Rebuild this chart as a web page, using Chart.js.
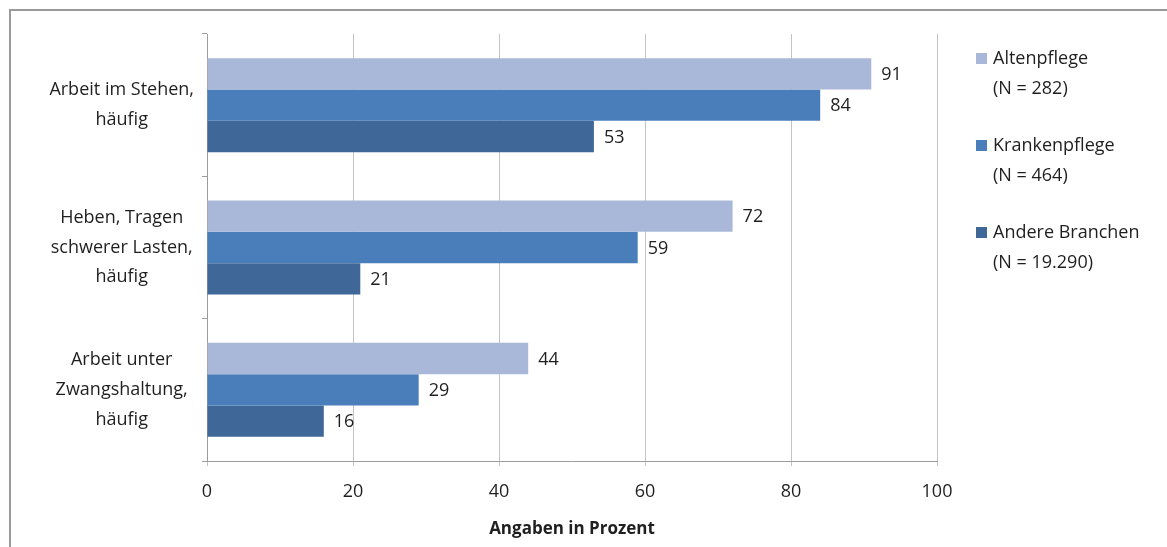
<!DOCTYPE html>
<html>
<head>
<meta charset="utf-8">
<script src="https://cdn.jsdelivr.net/npm/chart.js@4/dist/chart.umd.min.js"></script>
<style>
  html, body { margin: 0; padding: 0; background: #fff; }
  #wrap { width: 1167px; height: 547px; position: relative; }
</style>
</head>
<body>
<div id="wrap"><canvas id="myChart" width="1167" height="547"></canvas></div>
<script>
// data
let categories = [
  ["Arbeit im Stehen,", "häufig"],
  ["Heben, Tragen", "schwerer Lasten,", "häufig"],
  ["Arbeit unter", "Zwangshaltung,", "häufig"]
];
let seriesNames = ["Altenpflege", "Krankenpflege", "Andere Branchen"];
let seriesN = ["(N = 282)", "(N = 464)", "(N = 19.290)"];
let altenpflege = [91, 72, 44];
let krankenpflege = [84, 59, 29];
let andere = [53, 21, 16];
let xTicks = [0, 20, 40, 60, 80, 100];

let colors = ["#a9b8d8", "#4a7ebb", "#3f6898"];
let fontFam = "'Open Sans', Lato, sans-serif";
let fontSize = 18;
let textCol = "#1f1f1f";

// frame around the chart + value labels + legend
let extras = {
  id: "extras",
  beforeDraw(chart) {
    let c = chart.ctx;
    c.save();
    c.strokeStyle = "#9a9a9a";
    c.lineWidth = 2;
    c.strokeRect(10, 10, 1200, 600);
    c.restore();
  },
  afterDatasetsDraw(chart) {
    let c = chart.ctx;
    c.save();
    c.font = fontSize + "px " + fontFam;
    c.fillStyle = textCol;
    c.textAlign = "left";
    c.textBaseline = "middle";
    chart.data.datasets.forEach((ds, i) => {
      chart.getDatasetMeta(i).data.forEach((bar, j) => {
        c.fillText(ds.data[j], bar.x + 10, bar.y + 1);
      });
    });
    // legend
    let y0 = 59;
    seriesNames.forEach((name, i) => {
      let y = y0 + i * 87;
      c.fillStyle = colors[i];
      c.fillRect(976, y - 6, 11, 11);
      c.fillStyle = textCol;
      c.fillText(name, 993, y);
      c.fillText(seriesN[i], 993, y + 30);
    });
    c.restore();
  }
};

let ctx = document.getElementById("myChart").getContext("2d");
let myChart = new Chart(ctx, {
  type: "bar",
  data: {
    labels: categories,
    datasets: [
      { label: seriesNames[0], data: altenpflege, backgroundColor: colors[0] },
      { label: seriesNames[1], data: krankenpflege, backgroundColor: colors[1] },
      { label: seriesNames[2], data: andere, backgroundColor: colors[2] }
    ]
  },
  options: {
    indexAxis: "y",
    responsive: false,
    animation: false,
    categoryPercentage: 0.66,
    barPercentage: 1.0,
    layout: { padding: { left: 0, right: 230, top: 34, bottom: 4 } },
    plugins: { legend: { display: false }, tooltip: { enabled: false } },
    scales: {
      x: {
        min: 0, max: 100,
        afterBuildTicks: (s) => { s.ticks = xTicks.map(v => ({ value: v })); },
        afterFit: (s) => { s.height = 82; s.paddingLeft = 0; s.paddingRight = 0; },
        grid: { color: "#c4c4c4", lineWidth: 1, tickLength: 5, drawTicks: true },
        border: { color: "#9c9c9c" },
        ticks: { color: textCol, font: { family: fontFam, size: fontSize }, padding: 15 },
        title: {
          display: true, text: "Angaben in Prozent", color: textCol,
          font: { family: fontFam, size: fontSize - 1, weight: "bold" }, padding: { top: 0 }
        }
      },
      y: {
        afterFit: (s) => { s.width = 207; s.paddingTop = 0; s.paddingBottom = 0; },
        grid: { offset: true, drawOnChartArea: false, tickLength: 5, color: "#9c9c9c" },
        border: { color: "#9c9c9c" },
        ticks: {
          color: textCol, crossAlign: "center",
          font: { family: fontFam, size: fontSize, lineHeight: 1.65 }, padding: 8
        }
      }
    }
  },
  plugins: [extras]
});
</script>
</body>
</html>
